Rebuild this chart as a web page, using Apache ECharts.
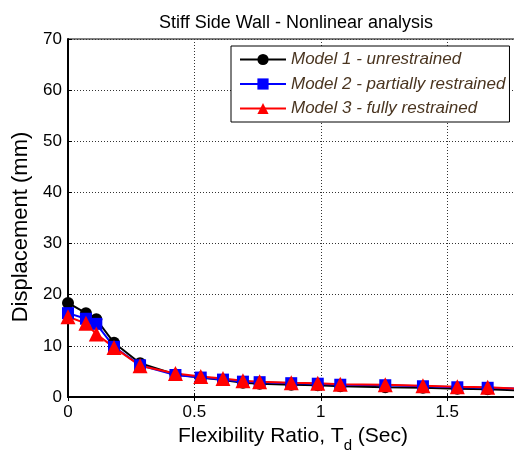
<!DOCTYPE html>
<html><head><meta charset="utf-8">
<script src="https://cdn.jsdelivr.net/npm/echarts@6/dist/echarts.min.js"></script>
<style>html,body{margin:0;padding:0;background:#fff}#c{width:514px;height:450px}</style>
</head><body><div id="c"></div>
<script>
const xValues = [0, 0.071, 0.112, 0.182, 0.285, 0.425, 0.525, 0.613, 0.692, 0.758, 0.883, 0.988, 1.077, 1.255, 1.404, 1.540, 1.660, 1.790];
const model1 = [18.4, 16.4, 15.2, 10.6, 6.6, 4.4, 3.8, 3.3, 2.8, 2.6, 2.4, 2.3, 2.1, 1.9, 1.8, 1.6, 1.5, 1.3];
const model2 = [16.4, 15.3, 14.3, 9.8, 6.2, 4.3, 3.8, 3.4, 3.0, 2.9, 2.7, 2.6, 2.4, 2.3, 2.1, 1.9, 1.8, 1.6];
const model3 = [15.7, 14.4, 12.3, 9.7, 6.1, 4.6, 4.0, 3.6, 3.2, 3.0, 2.8, 2.7, 2.5, 2.4, 2.2, 2.0, 1.9, 1.6];
const seriesNames = ['Model 1 - unrestrained', 'Model 2 - partially restrained', 'Model 3 - fully restrained'];
const yTicks = [0, 10, 20, 30, 40, 50, 60, 70];
const xTicks = [0, 0.5, 1, 1.5];

const pairs = arr => xValues.map((x, i) => [x, arr[i]]);
const font = 'Liberation Sans, Arial, sans-serif';
const chart = echarts.init(document.getElementById('c'));
const mk = (name, data, color, symbol, size) => ({
  name, type: 'line', data: pairs(data), symbol, symbolSize: size,
  lineStyle: { color, width: 2 }, itemStyle: { color },
  showAllSymbol: true, animation: false
});
chart.setOption({
  animation: false,
  title: { text: 'Stiff Side Wall - Nonlinear analysis', left: 291, textAlign: 'center', top: 9,
    textStyle: { fontFamily: font, fontSize: 18, fontWeight: 'normal', color: '#000' } },
  grid: { left: 68, top: 39, bottom: 53, right: -4, show: true, borderColor: '#000', borderWidth: 1,
    backgroundColor: '#fff', containLabel: false, outerBoundsMode: 'none' },
  legend: {
    orient: 'vertical', left: 231, top: 46, data: seriesNames,
    backgroundColor: '#fff', borderColor: '#000', borderWidth: 1,
    padding: [5, 4, 5, 8], itemWidth: 46, itemHeight: 14, itemGap: 7.5,
    textStyle: { fontFamily: font, fontSize: 17, fontStyle: 'italic', color: '#4a3520' }
  },
  xAxis: [{
    type: 'value', min: 0, max: 1.78, interval: 0.5,
    name: '{a|Flexibility Ratio, T}{s|d}{a| (Sec)}', nameLocation: 'middle', nameGap: 22,
    nameTextStyle: { rich: { a: { fontFamily: font, fontSize: 21, color: '#000' },
      s: { fontFamily: font, fontSize: 15, color: '#000', padding: [18, 0, 0, 0] } } },
    axisLine: { show: true, onZero: false, lineStyle: { color: '#000', width: 2 } },
    axisTick: { show: true, inside: true, length: 4, lineStyle: { color: '#000' } },
    axisLabel: { fontFamily: font, fontSize: 17, color: '#000', margin: 7,
      customValues: xTicks, formatter: v => String(v) },
    splitLine: { show: true, lineStyle: { color: '#333', type: [1, 2], width: 1 } }
  }, {
    type: 'value', position: 'top', min: 0, max: 1.78, interval: 0.5,
    axisLine: { show: true, lineStyle: { color: '#000', width: 1 } },
    axisTick: { show: true, inside: true, length: 4, lineStyle: { color: '#000' } },
    axisLabel: { show: false }, splitLine: { show: false }
  }],
  yAxis: {
    type: 'value', min: 0, max: 70, interval: 10,
    name: 'Displacement (mm)', nameLocation: 'middle', nameGap: 34,
    nameTextStyle: { fontFamily: font, fontSize: 22, color: '#000', padding: [0, 18, 0, 0] },
    axisLine: { show: true, lineStyle: { color: '#000', width: 2 } },
    axisTick: { show: true, inside: true, length: 4, lineStyle: { color: '#000' } },
    axisLabel: { fontFamily: font, fontSize: 17, color: '#000', margin: 6,
      formatter: v => yTicks.includes(v) ? String(v) : '' },
    splitLine: { show: true, lineStyle: { color: '#333', type: [1, 2], width: 1 } }
  },
  series: [
    mk(seriesNames[0], model1, '#000000', 'circle', 12),
    mk(seriesNames[1], model2, '#0000ff', 'rect', 12),
    mk(seriesNames[2], model3, '#ff0000', 'triangle', 15)
  ]
});
</script></body></html>
